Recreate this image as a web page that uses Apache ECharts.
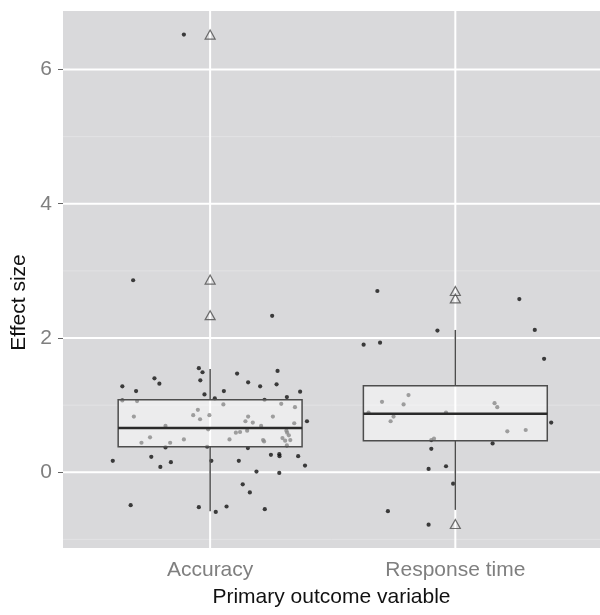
<!DOCTYPE html>
<html><head><meta charset="utf-8">
<script src="https://cdn.jsdelivr.net/npm/echarts@6/dist/echarts.min.js"></script>
<style>html,body{margin:0;padding:0;background:#fff}#c{width:600px;height:615px}</style>
</head><body><div id="c"></div>
<script>
// ---- data ----
const categories = ['Accuracy', 'Response time'];
const categoryPos = [1, 2];
const yMajorBreaks = [0, 2, 4, 6];
const yMinorBreaks = [-1, 1, 3, 5];

// box statistics
const whiskerLow  = [-0.58, -0.56];
const quartile1   = [0.38, 0.47];
const medians     = [0.66, 0.87];
const quartile3   = [1.08, 1.29];
const whiskerHigh = [1.54, 2.12];

// outliers (drawn at category centre)
const accOutliers = [6.52, 2.87, 2.34];
const rtOutliers  = [2.70, 2.59, -0.77];

// jittered observations: Accuracy
const accJitterX = [0.954,0.969,0.960,0.773,0.793,0.642,0.698,0.977,1.110,1.275,
  1.155,1.204,1.271,1.056,1.367,1.313,1.019,0.642,0.702,1.222,
  1.054,1.290,1.346,0.950,0.689,0.931,0.997,0.959,1.155,1.144,
  1.174,1.256,1.343,1.208,1.395,0.818,0.992,1.105,1.122,1.151,
  1.311,1.314,1.321,1.327,1.295,1.306,1.216,1.220,1.079,0.755,
  0.720,0.837,0.893,0.818,0.988,1.154,1.313,0.603,0.760,0.840,
  0.797,1.005,1.117,1.248,1.282,1.283,1.359,1.387,1.189,1.282,
  1.133,1.162,0.676,0.954,1.023,1.067,1.223,0.893,0.686,1.253];
const accEffect = [1.55,1.49,1.37,1.40,1.32,1.28,1.21,1.16,1.47,1.51,
  1.34,1.28,1.31,1.21,1.20,1.12,1.10,1.07,1.06,1.08,
  1.01,1.02,0.97,0.93,0.83,0.85,0.85,0.79,0.83,0.76,
  0.74,0.83,0.73,0.69,0.76,0.69,0.64,0.59,0.60,0.62,
  0.62,0.59,0.55,0.48,0.51,0.47,0.48,0.46,0.49,0.52,
  0.44,0.44,0.49,0.37,0.38,0.36,0.40,0.17,0.23,0.15,
  0.08,0.17,0.17,0.26,0.27,0.24,0.24,0.10,0.01,-0.01,
  -0.18,-0.30,-0.49,-0.52,-0.59,-0.51,-0.55,6.52,2.86,2.33];

// jittered observations: Response time
const rtJitterX = [1.682,2.261,1.927,2.324,1.626,1.693,2.362,1.809,1.701,1.789,
  2.160,2.171,1.646,1.962,1.748,1.736,2.391,2.212,2.287,1.902,
  1.913,2.152,1.902,1.891,1.962,1.991,1.725,1.891];
const rtEffect = [2.70,2.58,2.11,2.12,1.90,1.93,1.69,1.15,1.05,1.01,
  1.03,0.97,0.89,0.89,0.83,0.76,0.74,0.61,0.63,0.48,
  0.50,0.43,0.35,0.05,0.09,-0.17,-0.58,-0.78];

// ---- chart ----
const FONT = '"Liberation Sans", Arial, Helvetica, sans-serif';
const BOX_WIDTH = 0.75;
const chart = echarts.init(document.getElementById('c'), null, {renderer: 'canvas'});

function hLine(color, width) {
  return function (params, api) {
    const cs = params.coordSys;
    const y = api.coord([api.value(0), api.value(1)])[1];
    return {type: 'line', shape: {x1: cs.x, y1: y, x2: cs.x + cs.width, y2: y},
      style: {stroke: color, lineWidth: width}};
  };
}
function vLine(color, width) {
  return function (params, api) {
    const cs = params.coordSys;
    const x = api.coord([api.value(0), api.value(1)])[0];
    return {type: 'line', shape: {x1: x, y1: cs.y, x2: x, y2: cs.y + cs.height},
      style: {stroke: color, lineWidth: width}};
  };
}

const option = {
  animation: false,
  grid: {left: 63, right: 0, top: 11, bottom: 67, show: true,
    backgroundColor: '#D9D9DB', borderWidth: 0},
  xAxis: {
    type: 'value', min: 0.4, max: 2.59,
    axisLine: {show: false},
    axisTick: {show: true, customValues: categoryPos, length: 5, lineStyle: {color: '#666', width: 1}},
    axisLabel: {customValues: categoryPos, margin: 12, color: '#7F7F7F', fontSize: 21, fontFamily: FONT,
      formatter: function (v) { const i = categoryPos.indexOf(v); return i >= 0 ? categories[i] : ''; }},
    splitLine: {show: false},
    name: 'Primary outcome variable', nameLocation: 'middle', nameGap: 39,
    nameTextStyle: {color: '#111', fontSize: 21, fontFamily: FONT}
  },
  yAxis: {
    type: 'value', min: -1.128, max: 6.871, splitNumber: 4,
    axisLine: {show: false},
    axisTick: {show: true, customValues: yMajorBreaks, length: 5, lineStyle: {color: '#666', width: 1}},
    axisLabel: {customValues: yMajorBreaks, margin: 11, color: '#7F7F7F', fontSize: 21, fontFamily: FONT},
    splitLine: {show: false},
    name: 'Effect size', nameLocation: 'middle', nameGap: 33,
    nameTextStyle: {color: '#111', fontSize: 21, fontFamily: FONT, padding: [0, 46, 0, 0]}
  },
  series: [
    {type: 'custom', z: 1, silent: true, clip: false,
      data: yMinorBreaks.map(v => [1, v]), renderItem: hLine('#E2E2E4', 1)},
    {type: 'custom', z: 1, silent: true, clip: false,
      data: yMajorBreaks.map(v => [1, v]), renderItem: hLine('#FFFFFF', 2)},
    {type: 'custom', z: 1, silent: true, clip: false,
      data: categoryPos.map(c => [c, 0]), renderItem: vLine('#FFFFFF', 2)},
    {type: 'scatter', z: 2, silent: true, symbol: 'circle', symbolSize: 4.2,
      itemStyle: {color: '#111111'},
      data: accJitterX.map((x, i) => [x, accEffect[i]])},
    {type: 'scatter', z: 2, silent: true, symbol: 'circle', symbolSize: 4.2,
      itemStyle: {color: '#111111'},
      data: rtJitterX.map((x, i) => [x, rtEffect[i]])},
    {type: 'custom', z: 3, silent: true,
      data: categoryPos.map((c, i) => [c, whiskerLow[i], quartile1[i], medians[i], quartile3[i], whiskerHigh[i]]),
      encode: {x: 0, y: [1, 2, 3, 4, 5]},
      renderItem: function (params, api) {
        const x = api.value(0);
        const pLo = api.coord([x, api.value(1)]);
        const pQ1 = api.coord([x, api.value(2)]);
        const pMd = api.coord([x, api.value(3)]);
        const pQ3 = api.coord([x, api.value(4)]);
        const pHi = api.coord([x, api.value(5)]);
        const hw = api.size([BOX_WIDTH, 0])[0] / 2;
        const stroke = '#4D4D4D';
        return {type: 'group', children: [
          {type: 'line', shape: {x1: pHi[0], y1: pHi[1], x2: pQ3[0], y2: pQ3[1]}, style: {stroke: stroke, lineWidth: 1.5}},
          {type: 'line', shape: {x1: pQ1[0], y1: pQ1[1], x2: pLo[0], y2: pLo[1]}, style: {stroke: stroke, lineWidth: 1.5}},
          {type: 'rect', shape: {x: pQ1[0] - hw, y: pQ3[1], width: 2 * hw, height: pQ1[1] - pQ3[1]},
            style: {fill: 'rgba(255,255,255,0.5)', stroke: stroke, lineWidth: 1.5}},
          {type: 'line', shape: {x1: pMd[0] - hw, y1: pMd[1], x2: pMd[0] + hw, y2: pMd[1]}, style: {stroke: '#2A2A2A', lineWidth: 2.5}}
        ]};
      }},
    {type: 'scatter', z: 4, silent: true, symbol: 'triangle', symbolSize: [10, 9],
      itemStyle: {color: 'rgba(0,0,0,0)', borderColor: '#4D4D4D', borderWidth: 1.2},
      data: accOutliers.map(v => [categoryPos[0], v]).concat(rtOutliers.map(v => [categoryPos[1], v]))}
  ]
};
chart.setOption(option);
</script>
</body></html>
